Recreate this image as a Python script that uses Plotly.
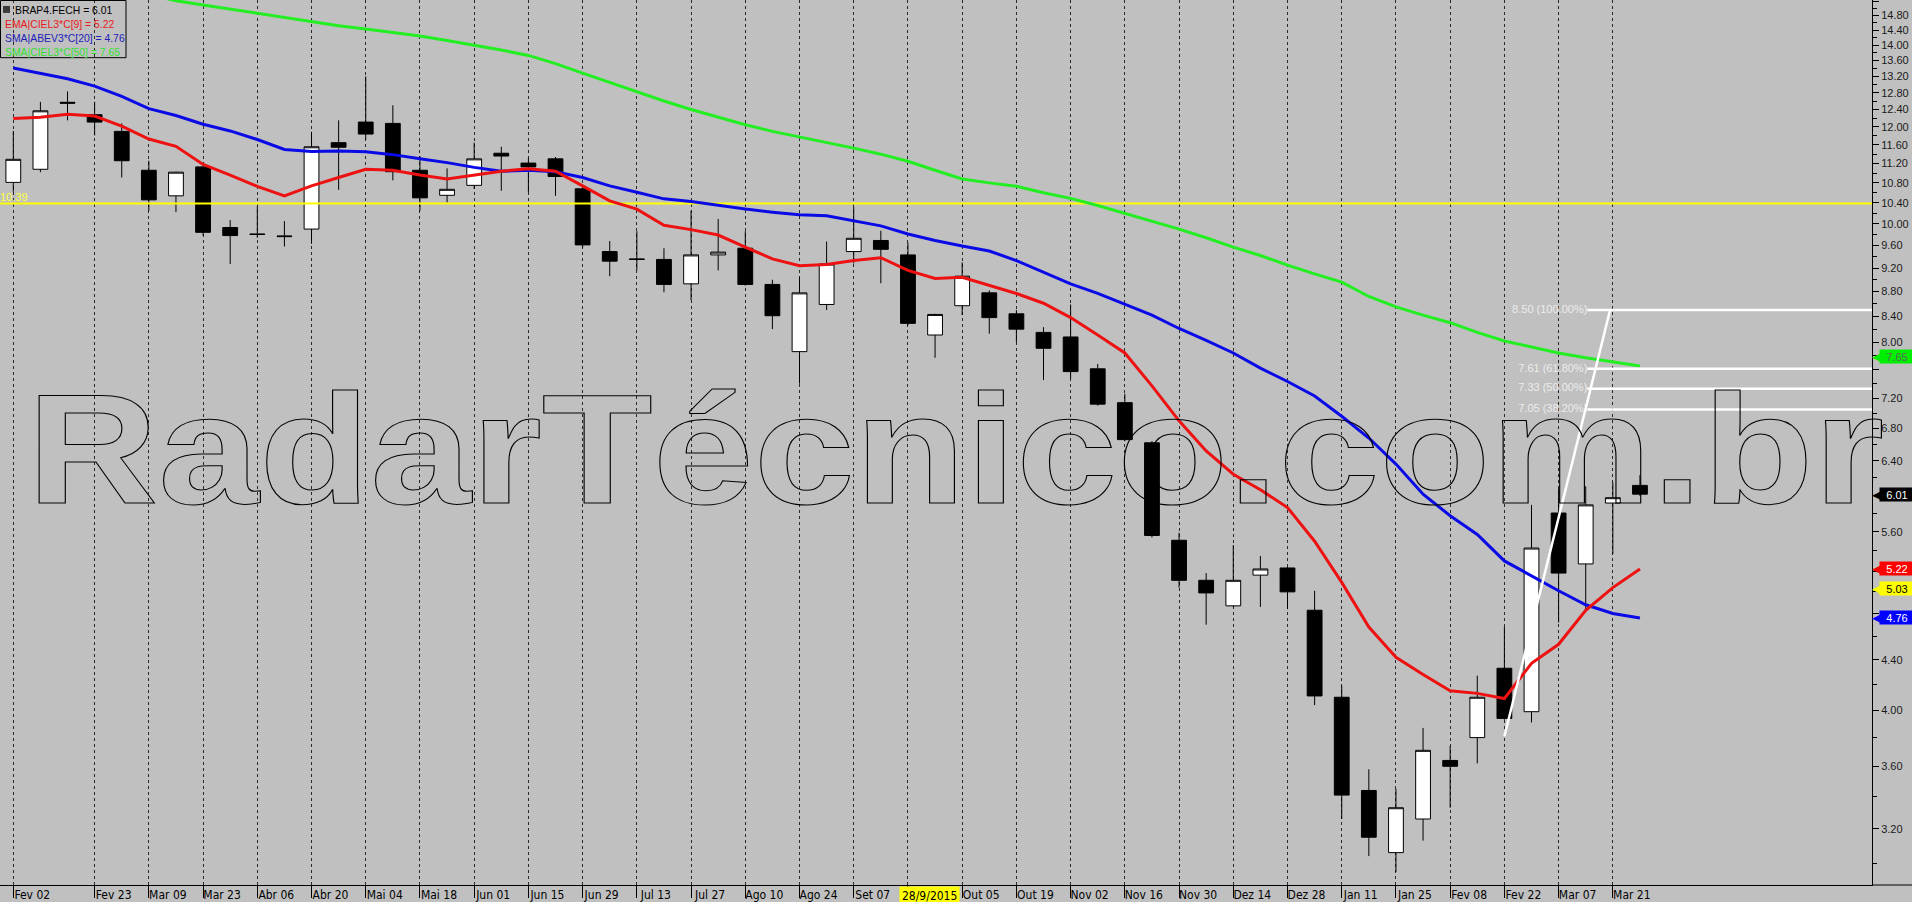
import math
import plotly.graph_objects as go

# ---------------- data ----------------
dates = [
    "2015-02-02", "2015-02-09", "2015-02-16", "2015-02-23", "2015-03-02", "2015-03-09",
    "2015-03-16", "2015-03-23", "2015-03-30", "2015-04-06", "2015-04-13", "2015-04-20",
    "2015-04-27", "2015-05-04", "2015-05-11", "2015-05-18", "2015-05-25", "2015-06-01",
    "2015-06-08", "2015-06-15", "2015-06-22", "2015-06-29", "2015-07-06", "2015-07-13",
    "2015-07-20", "2015-07-27", "2015-08-03", "2015-08-10", "2015-08-17", "2015-08-24",
    "2015-08-31", "2015-09-07", "2015-09-14", "2015-09-21", "2015-09-28", "2015-10-05",
    "2015-10-12", "2015-10-19", "2015-10-26", "2015-11-02", "2015-11-09", "2015-11-16",
    "2015-11-23", "2015-11-30", "2015-12-07", "2015-12-14", "2015-12-21", "2015-12-28",
    "2016-01-04", "2016-01-11", "2016-01-18", "2016-01-25", "2016-02-01", "2016-02-08",
    "2016-02-15", "2016-02-22", "2016-02-29", "2016-03-07", "2016-03-14", "2016-03-21",
    "2016-03-28",
]
opens = [10.81, 11.08, 12.57, 12.28, 11.90, 11.06, 10.54, 11.13, 9.93, 9.81, 9.76, 9.90,
         11.65, 12.11, 12.08, 11.06, 10.55, 10.75, 11.42, 11.21, 11.30, 10.68, 9.49, 9.36,
         9.35, 8.93, 9.43, 9.55, 8.92, 7.86, 8.59, 9.49, 9.69, 9.43, 8.11, 8.57, 8.78,
         8.44, 8.15, 8.08, 7.61, 7.14, 6.62, 5.51, 5.11, 4.87, 5.16, 5.23, 4.83, 4.10,
         3.44, 3.06, 3.26, 3.64, 3.80, 4.33, 3.99, 5.80, 5.27, 5.91, 6.11]
highs = [11.91, 12.58, 12.83, 12.58, 12.08, 11.26, 11.03, 11.15, 10.07, 10.33, 10.05, 11.89,
         12.15, 13.20, 12.50, 11.36, 11.10, 11.65, 11.56, 11.32, 11.34, 10.70, 9.68, 9.86,
         9.55, 10.25, 10.09, 9.86, 9.00, 9.05, 9.67, 10.32, 9.87, 9.65, 8.44, 9.30, 8.82,
         8.50, 8.23, 8.59, 7.68, 7.26, 6.64, 5.59, 5.18, 5.46, 5.35, 5.24, 5.01, 4.19,
         3.58, 3.45, 3.87, 3.74, 4.27, 4.68, 5.89, 6.07, 6.10, 6.14, 6.23]
lows = [10.62, 11.02, 12.15, 11.81, 10.91, 10.25, 10.22, 9.78, 9.27, 9.74, 9.58, 9.63,
        10.66, 11.72, 10.85, 10.25, 10.41, 10.68, 10.64, 10.61, 10.54, 9.56, 9.06, 9.16,
        8.79, 8.66, 9.16, 8.90, 8.20, 7.40, 8.50, 9.28, 8.94, 8.26, 7.77, 8.42, 8.13,
        8.00, 7.45, 7.47, 7.10, 6.64, 5.54, 5.04, 4.70, 4.86, 4.86, 4.84, 4.04, 3.26,
        3.04, 2.95, 3.13, 3.33, 3.62, 3.93, 3.91, 4.72, 4.82, 5.37, 5.99]
closes = [11.29, 12.37, 12.55, 12.11, 11.26, 10.46, 11.02, 9.84, 9.78, 9.80, 9.77, 11.56,
          11.55, 11.84, 11.03, 10.50, 10.67, 11.30, 11.36, 11.13, 10.93, 9.61, 9.32, 9.35,
          8.92, 9.43, 9.48, 8.92, 8.41, 8.78, 9.27, 9.73, 9.53, 8.29, 8.43, 9.06, 8.38,
          8.20, 7.91, 7.57, 7.12, 6.66, 5.56, 5.11, 4.99, 5.11, 5.22, 5.00, 4.11, 3.41,
          3.15, 3.33, 3.71, 3.60, 4.10, 3.94, 5.43, 5.18, 5.89, 5.97, 6.01]

ema9 = [12.19, 12.22, 12.29, 12.25, 12.02, 11.73, 11.57, 11.18, 10.96, 10.73, 10.54, 10.74,
        10.91, 11.08, 11.06, 10.96, 10.88, 10.96, 11.04, 11.09, 11.04, 10.74, 10.44, 10.28,
        9.97, 9.89, 9.79, 9.57, 9.36, 9.24, 9.26, 9.33, 9.38, 9.16, 9.02, 9.04, 8.91,
        8.77, 8.61, 8.38, 8.11, 7.84, 7.37, 6.90, 6.52, 6.24, 6.06, 5.86, 5.50, 5.09,
        4.68, 4.42, 4.28, 4.15, 4.13, 4.09, 4.37, 4.53, 4.83, 5.04, 5.22]
sma20 = [13.41, 13.27, 13.14, 12.96, 12.71, 12.42, 12.26, 12.06, 11.91, 11.72, 11.50, 11.46,
         11.47, 11.45, 11.39, 11.30, 11.22, 11.12, 11.04, 11.06, 11.03, 10.91, 10.74, 10.61,
         10.48, 10.43, 10.35, 10.28, 10.22, 10.17, 10.15, 10.06, 9.96, 9.81, 9.69, 9.59,
         9.50, 9.33, 9.13, 8.93, 8.77, 8.59, 8.42, 8.21, 8.03, 7.84, 7.62, 7.43, 7.23,
         6.96, 6.68, 6.36, 6.01, 5.77, 5.57, 5.30, 5.15, 5.01, 4.88, 4.80, 4.76]
sma50_dates = dates[5:]
sma50 = [15.40, 15.22, 15.10, 14.98, 14.86, 14.74, 14.62, 14.52, 14.43, 14.33, 14.24,
         14.12, 14.00, 13.87, 13.73, 13.52, 13.28, 13.05, 12.82, 12.60, 12.40, 12.22,
         12.05, 11.90, 11.78, 11.65, 11.53, 11.40, 11.25, 11.06, 10.88, 10.80, 10.73,
         10.60, 10.49, 10.35, 10.20, 10.05, 9.90, 9.74, 9.57, 9.42, 9.25, 9.10, 8.96,
         8.72, 8.55, 8.42, 8.30, 8.15, 8.02, 7.93, 7.84, 7.77, 7.71, 7.65]

support_level = 10.39
fib_levels = [8.50, 7.61, 7.33, 7.05]
fib_labels = ["8.50 (100.00%)", "7.61 (61.80%)", "7.33 (50.00%)", "7.05 (38.20%)"]
fib_start = "2016-03-14 10:00"
trend_x = ["2016-02-22 00:00", "2016-03-20 07:00"]
trend_y = [3.81, 8.50]

x_tick_dates = ["2015-02-02", "2015-02-23", "2015-03-09", "2015-03-23", "2015-04-06",
                "2015-04-20", "2015-05-04", "2015-05-18", "2015-06-01", "2015-06-15",
                "2015-06-29", "2015-07-13", "2015-07-27", "2015-08-10", "2015-08-24",
                "2015-09-07", "2015-09-21", "2015-10-05", "2015-10-19", "2015-11-02",
                "2015-11-16", "2015-11-30", "2015-12-14", "2015-12-28", "2016-01-11",
                "2016-01-25", "2016-02-08", "2016-02-22", "2016-03-07", "2016-03-21"]
x_tick_labels = ["Fev 02", "Fev 23", "Mar 09", "Mar 23", "Abr 06", "Abr 20", "Mai 04",
                 "Mai 18", "Jun 01", "Jun 15", "Jun 29", "Jul 13", "Jul 27", "Ago 10",
                 "Ago 24", "Set 07", "", "Out 05", "Out 19", "Nov 02", "Nov 16", "Nov 30",
                 "Dez 14", "Dez 28", "Jan 11", "Jan 25", "Fev 08", "Fev 22", "Mar 07",
                 "Mar 21"]
cursor_date = "2015-09-28"
cursor_label = "28/9/2015"

y_ticks = [3.20, 3.60, 4.00, 4.40, 4.80, 5.20, 5.60, 6.00, 6.40, 6.80, 7.20, 7.60, 8.00,
           8.40, 8.80, 9.20, 9.60, 10.00, 10.40, 10.80, 11.20, 11.60, 12.00, 12.40, 12.80,
           13.20, 13.60, 14.00, 14.40, 14.80, 15.20]
# labels hidden where the value tags sit on the scale
y_tick_labels = ["3.20", "3.60", "4.00", "4.40", "", "", "5.60", "", "6.40",
                 "6.80", "7.20", "", "8.00", "8.40", "8.80", "9.20", "9.60", "10.00",
                 "10.40", "10.80", "11.20", "11.60", "12.00", "12.40", "12.80", "13.20",
                 "13.60", "14.00", "14.40", "14.80", "15.20"]
y_minor = [3.00, 3.40, 3.80, 4.20, 4.60, 5.00, 5.40, 5.80, 6.20, 6.60, 7.00, 7.40, 7.80,
           8.20, 8.60, 9.00, 9.40, 9.80, 10.20, 10.60, 11.00, 11.40, 11.80, 12.20, 12.60,
           13.00, 13.40, 13.80, 14.20, 14.60, 15.00]

tag_values = [7.65, 6.01, 5.22, 5.03, 4.76]
tag_texts = ["7.65", "6.01", "5.22", "5.03", "4.76"]
tag_fill = ["#00ee00", "#000000", "#ff0000", "#ffff00", "#0000ff"]
tag_font = ["#5a6a5a", "#ffffff", "#ffffff", "#000000", "#ffffff"]
tag_shift = [10, 0, 0, 0, 0]

legend_lines = ["BRAP4.FECH = 6.01", "EMA|CIEL3*C[9] = 5.22",
                "SMA|ABEV3*C[20] = 4.76", "SMA|CIEL3*C[50] = 7.65"]
legend_colors = ["#000000", "#e81818", "#2020b8", "#30e030"]

watermark = "RadarTécnico.com.br"

x_start = "2015-01-29 13:35"
x_end = "2016-05-26 22:00"
y_min, y_max = 2.879, 15.24

# ---------------- geometry helpers (pixels -> paper) ----------------
PW, PH = 1872.0, 890.0
def px(x):
    return x / PW
def py(y):
    return 1 - y / PH

BG = "#c0c0c0"
NARROW = "Liberation Sans Narrow, Arial Narrow, DejaVu Sans Condensed, sans-serif"
SANS = "Liberation Sans, Arial, sans-serif"

fig = go.Figure()

fig.add_trace(go.Candlestick(
    x=dates, open=opens, high=highs, low=lows, close=closes,
    increasing=dict(line=dict(color="#000000", width=1), fillcolor="#ffffff"),
    decreasing=dict(line=dict(color="#000000", width=1), fillcolor="#000000"),
    whiskerwidth=0, showlegend=False, hoverinfo="skip"))

# horizontal support line
fig.add_trace(go.Scatter(
    x=[x_start, x_end], y=[support_level, support_level], mode="lines+text",
    line=dict(color="#ffff00", width=2), text=[f"{support_level:.2f}", ""],
    textposition="top right", textfont=dict(family=SANS, size=11, color="#ffff40"),
    hoverinfo="skip", showlegend=False))

# moving averages
fig.add_trace(go.Scatter(x=sma50_dates, y=sma50, mode="lines",
                         line=dict(color="#22ee22", width=3), hoverinfo="skip", showlegend=False))
fig.add_trace(go.Scatter(x=dates, y=sma20, mode="lines",
                         line=dict(color="#0a0ae6", width=3), hoverinfo="skip", showlegend=False))
fig.add_trace(go.Scatter(x=dates, y=ema9, mode="lines",
                         line=dict(color="#ee1111", width=3), hoverinfo="skip", showlegend=False))

# fibonacci levels
for lv, lab in zip(fib_levels, fib_labels):
    fig.add_trace(go.Scatter(
        x=[fib_start, x_end], y=[lv, lv], mode="lines+text",
        line=dict(color="#ffffff", width=2.5), text=[lab, ""],
        textposition="middle left", textfont=dict(family=SANS, size=11, color="#ececec"),
        hoverinfo="skip", showlegend=False, cliponaxis=False))
fig.add_trace(go.Scatter(x=trend_x, y=trend_y, mode="lines",
                         line=dict(color="#ffffff", width=2.5), hoverinfo="skip", showlegend=False))

shapes = []
annotations = []

# watermark (outlined via post script)
annotations.append(dict(text=watermark, xref="paper", yref="paper", x=px(955.5),
                        y=py(452), xanchor="center", yanchor="middle", showarrow=False,
                        font=dict(family="Liberation Sans, Arial, sans-serif", size=156,
                                  weight="bold", color="rgba(0,0,0,0)")))

# legend box
shapes.append(dict(type="rect", xref="paper", yref="paper", x0=px(0.5), x1=px(126),
                   y0=py(58), y1=py(0.5), line=dict(color="#000000", width=1),
                   fillcolor="rgba(0,0,0,0)", layer="above"))
shapes.append(dict(type="rect", xref="paper", yref="paper", x0=px(3), x1=px(10),
                   y0=py(13), y1=py(6), line=dict(width=0), fillcolor="#3a3a3a", layer="above"))
legend_x = [13, 3, 3, 3]
legend_y = [10, 24.5, 38.5, 52]
for t, c, lx, ly in zip(legend_lines, legend_colors, legend_x, legend_y):
    annotations.append(dict(text=t, xref="paper", yref="paper", x=0, y=1, xanchor="left",
                            yanchor="middle", xshift=lx, yshift=-ly, showarrow=False,
                            font=dict(family=SANS, size=10.4, color=c)))

# right-axis value tags (arrow tip + label box)
for v, t, fc, tc, sh in zip(tag_values, tag_texts, tag_fill, tag_font, tag_shift):
    annotations.append(dict(text="\u25C0", xref="paper", yref="y", x=1, y=math.log10(v),
                            xanchor="left", yanchor="middle", xshift=-1, yshift=sh,
                            showarrow=False, borderpad=0,
                            font=dict(family="DejaVu Sans", size=13, color=fc)))
    annotations.append(dict(text=t, xref="paper", yref="y", x=1, y=math.log10(v),
                            xanchor="left", yanchor="middle", xshift=7, yshift=sh,
                            showarrow=False, bgcolor=fc, borderpad=0, width=34, height=13,
                            align="center",
                            font=dict(family=SANS, size=11, color=tc)))

# bottom axis line continues under the price scale
shapes.append(dict(type="line", xref="paper", yref="paper", x0=1, x1=1912 / PW, y0=0, y1=0,
                   line=dict(color="#000000", width=1)))

# cursor date label
annotations.append(dict(text=cursor_label, xref="x", yref="paper", x=cursor_date, y=0,
                        xanchor="center", yanchor="top", xshift=-6, yshift=-1,
                        showarrow=False, bgcolor="#ffff00", borderpad=2,
                        font=dict(family=NARROW, size=12, color="#000000")))

fig.update_layout(
    width=1912, height=902, margin=dict(l=0, r=40, t=0, b=12, pad=0),
    paper_bgcolor=BG, plot_bgcolor=BG, showlegend=False, boxgap=0.22,
    font=dict(family=SANS, size=11, color="#000000"),
    shapes=shapes, annotations=annotations, hovermode=False,
)
fig.update_xaxes(
    type="date", range=[x_start, x_end], rangeslider_visible=False,
    tickmode="array", tickvals=x_tick_dates, ticktext=x_tick_labels,
    showgrid=True, gridcolor="#2a2a2a", griddash="3px,3px", gridwidth=1,
    showline=True, linecolor="#000000", linewidth=1,
    ticks="outside", ticklen=12, tickcolor="#000000", tickwidth=1,
    tickfont=dict(family=NARROW, size=12, color="#000000"),
    ticklabelshift=19, ticklabelstandoff=-13, zeroline=False, fixedrange=True)
fig.update_yaxes(
    type="log", range=[math.log10(y_min), math.log10(y_max)], side="right",
    tickmode="array", tickvals=y_ticks, ticktext=y_tick_labels,
    showgrid=False, showline=True, linecolor="#000000", linewidth=1,
    ticks="outside", ticklen=6, tickcolor="#000000", tickwidth=1,
    minor=dict(tickvals=y_minor, ticklen=4, tickcolor="#000000", ticks="outside",
               showgrid=False),
    tickfont=dict(family=SANS, size=11, color="#1a1a1a"), zeroline=False, fixedrange=True)

post = """
document.body.style.margin = '0';
document.body.style.overflow = 'hidden';
var gd = document.getElementById('{plot_id}');
function outlineWatermark() {
  var ts = gd.querySelectorAll('text');
  ts.forEach(function (t) {
    if (t.textContent.indexOf('RadarT') === 0) {
      t.style.fill = 'none';
      t.style.stroke = '#000000';
      t.style.strokeWidth = '1px';
      t.setAttribute('textLength', '1857');
      t.setAttribute('lengthAdjust', 'spacingAndGlyphs');
    }
  });
}
outlineWatermark();
if (gd.on) { gd.on('plotly_afterplot', outlineWatermark); }
"""

fig.write_html("out.html", post_script=post, config={"displayModeBar": False})
